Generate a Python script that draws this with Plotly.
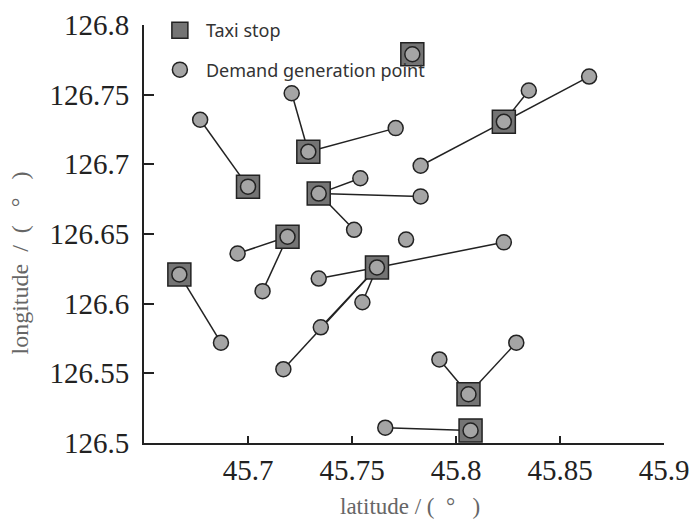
import plotly.graph_objects as go

# Taxi stops (latitude, longitude)
stop_lat = [45.779, 45.823, 45.729, 45.700, 45.734, 45.719, 45.667, 45.762, 45.806, 45.807]
stop_lon = [126.779, 126.7305, 126.709, 126.684, 126.679, 126.648, 126.621, 126.626, 126.535, 126.509]

# Demand generation points and the stop index each is assigned to (-1 = none)
dem_lat = [45.721, 45.771, 45.677, 45.835, 45.864, 45.783, 45.754, 45.783, 45.751, 45.776,
           45.823, 45.695, 45.707, 45.734, 45.755, 45.687, 45.735, 45.717, 45.792, 45.829, 45.766]
dem_lon = [126.751, 126.726, 126.732, 126.753, 126.763, 126.699, 126.690, 126.677, 126.653, 126.646,
           126.644, 126.636, 126.609, 126.618, 126.601, 126.572, 126.583, 126.553, 126.560, 126.572, 126.511]
dem_stop = [2, 2, 3, 1, 1, 1, 4, 4, 4, -1,
            7, 5, 5, 7, 7, 6, 7, 7, 8, 8, 9]

x_ticks = [45.7, 45.75, 45.8, 45.85, 45.9]
y_ticks = [126.5, 126.55, 126.6, 126.65, 126.7, 126.75, 126.8]

lx, ly = [], []
for la, lo, s in zip(dem_lat, dem_lon, dem_stop):
    if s < 0:
        continue
    lx += [la, stop_lat[s], None]
    ly += [lo, stop_lon[s], None]

fig = go.Figure()
fig.add_trace(go.Scatter(x=lx, y=ly, mode="lines", line=dict(color="#222", width=1.5),
                         showlegend=False, hoverinfo="skip"))
fig.add_trace(go.Scatter(x=stop_lat, y=stop_lon, mode="markers", name="Taxi stop",
                         marker=dict(symbol="square", size=23, color="#747474",
                                     line=dict(color="#222", width=1.5)), legendgroup="a"))
fig.add_trace(go.Scatter(x=stop_lat, y=stop_lon, mode="markers", showlegend=False,
                         marker=dict(symbol="circle", size=15, color="#a5a5a5",
                                     line=dict(color="#222", width=1.5))))
fig.add_trace(go.Scatter(x=dem_lat, y=dem_lon, mode="markers", name="Demand generation point",
                         marker=dict(symbol="circle", size=15, color="#a5a5a5",
                                     line=dict(color="#222", width=1.5)), legendgroup="b"))

axis_common = dict(showgrid=False, zeroline=False, showline=True, linecolor="#222", linewidth=2,
                   ticks="inside", tickcolor="#222", tickwidth=2, automargin=False,
                   tickfont=dict(family="Liberation Serif", size=29, color="#222"))
fig.update_xaxes(range=[45.65, 45.9], tickvals=x_ticks, ticktext=[f"{v:g}" for v in x_ticks],
                 ticklen=7, **axis_common)
fig.update_yaxes(range=[126.5, 126.8], tickvals=y_ticks, ticktext=[f"{v:g}" for v in y_ticks],
                 ticklen=10, ticklabelstandoff=7, **axis_common)

fig.update_layout(
    width=695, height=520,
    margin=dict(l=144, r=31, t=20, b=77),
    plot_bgcolor="white", paper_bgcolor="white",
    legend=dict(x=0.019, y=1.031, xanchor="left", yanchor="top", bgcolor="rgba(0,0,0,0)",
                font=dict(family="Noto Sans", size=18, color="#333"),
                tracegroupgap=13, traceorder="grouped", itemwidth=42),
    annotations=[
        dict(text="latitude / (  °   )", xref="paper", yref="paper", x=0.512, y=-0.153,
             xanchor="center", yanchor="middle", showarrow=False,
             font=dict(family="Liberation Serif", size=23, color="#666")),
        dict(text="longitude  /  (   °   )", xref="paper", yref="paper", x=-0.238, y=0.43,
             xanchor="center", yanchor="middle", textangle=-90, showarrow=False,
             font=dict(family="Liberation Serif", size=24, color="#666")),
    ],
)

fig.write_html("out.html", config={"displayModeBar": False},
               post_script="document.body.style.margin='0';")
